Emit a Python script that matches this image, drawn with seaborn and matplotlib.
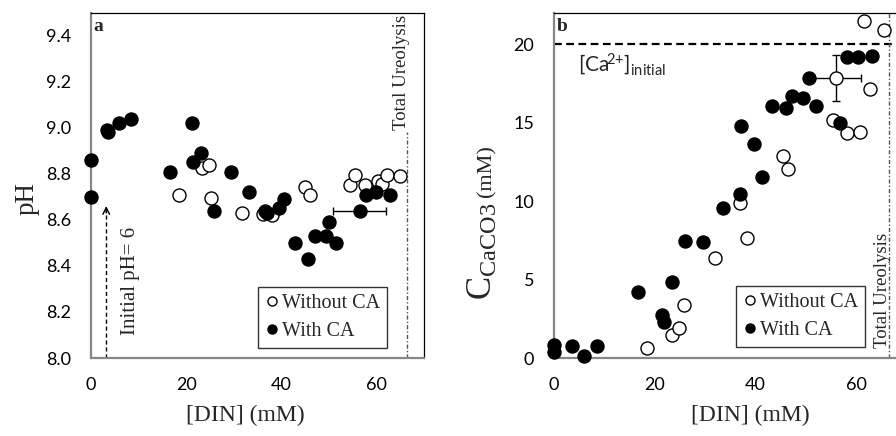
import matplotlib
matplotlib.use("Agg")
import matplotlib.pyplot as plt
import seaborn as sns
import pandas as pd
from matplotlib.lines import Line2D
from matplotlib.ticker import FixedLocator, FormatStrFormatter

# ---- data -------------------------------------------------------------
# panel a: pH vs dissolved inorganic nitrogen
ph_din_without = [18.5, 23.3, 24.7, 25.3, 31.7, 36.2, 38.0, 45.0, 46.0,
                  54.4, 55.5, 57.7, 60.3, 61.1, 62.2, 65.0]
ph_without = [8.71, 8.825, 8.84, 8.695, 8.63, 8.625, 8.62, 8.745, 8.71,
              8.75, 8.795, 8.75, 8.77, 8.755, 8.795, 8.79]
ph_din_with = [0.0, 0.0, 3.3, 3.5, 5.9, 8.5, 16.6, 21.2, 21.4, 23.1, 25.9,
               29.4, 33.2, 36.6, 36.9, 39.5, 40.6, 42.9, 45.7, 47.1, 49.3,
               50.1, 51.6, 56.5, 57.9, 60.0, 62.9]
ph_with = [8.86, 8.70, 8.99, 8.98, 9.02, 9.04, 8.81, 9.02, 8.85, 8.89, 8.64,
           8.81, 8.72, 8.64, 8.63, 8.65, 8.69, 8.50, 8.43, 8.53, 8.53,
           8.59, 8.50, 8.64, 8.71, 8.72, 8.71]
ph_err_din, ph_err_val, ph_err_x = 56.5, 8.64, 5.6

# panel b: precipitated CaCO3 vs dissolved inorganic nitrogen
caco3_din_without = [18.6, 23.4, 24.8, 25.9, 32.0, 36.9, 38.3, 45.4, 46.4,
                     55.3, 58.1, 60.6, 55.9, 62.6, 61.4, 65.4]
caco3_without = [0.63, 1.48, 1.90, 3.37, 6.39, 9.90, 7.66, 12.89, 12.06,
                 15.17, 14.35, 14.39, 17.84, 17.16, 21.44, 20.89]
caco3_din_with = [0.0, 0.0, 3.6, 6.0, 8.6, 16.75, 21.5, 21.8, 23.4, 26.0,
                  29.7, 33.5, 37.0, 37.2, 39.8, 41.2, 43.3, 46.1, 47.3, 49.4,
                  50.5, 51.9, 56.8, 58.1, 60.2, 63.0]
caco3_with = [0.85, 0.36, 0.78, 0.10, 0.78, 4.19, 2.75, 2.29, 4.87, 7.47,
              7.41, 9.55, 10.48, 14.79, 13.63, 11.53, 16.06, 15.92, 16.72,
              16.55, 17.84, 16.06, 14.96, 19.15, 19.15, 19.26]
caco3_err_din, caco3_err_val = 55.9, 17.84
caco3_err_x, caco3_err_y = 4.95, 1.48

ca_initial = 20.0
total_ureolysis_din = 66.5
initial_ph_din = 3.2
initial_ph_top = 8.66

x_ticks = [0, 20, 40, 60]
ph_ticks = [8.0, 8.2, 8.4, 8.6, 8.8, 9.0, 9.2, 9.4]
caco3_ticks = [0, 5, 10, 15, 20]
series_labels = ["Without CA", "With CA"]

# ---- style ------------------------------------------------------------
sns.set_style("white")
plt.rcParams.update({
    "font.family": ["Lato", "DejaVu Sans"],
    "mathtext.fontset": "custom",
    "mathtext.rm": "Liberation Serif",
    "mathtext.it": "Liberation Serif:italic",
    "mathtext.bf": "Liberation Serif:bold",
    "mathtext.sf": "Lato",
})
SERIF = ["Liberation Serif", "DejaVu Serif"]
SPINE_GREY = "#878787"
TICK_GREY = "#a6a6a6"
REF_LINE = "#555555"
MS = 88

W, H = 896, 436
fig = plt.figure(figsize=(W / 100, H / 100), dpi=100)
ax_a = fig.add_axes([91 / W, (H - 358) / H, 333 / W, 345.3 / H])
ax_b = fig.add_axes([553.5 / W, (H - 358) / H, 353.5 / W, 345.3 / H])

df_ph_wo = pd.DataFrame({"din": ph_din_without, "val": ph_without})
df_ph_w = pd.DataFrame({"din": ph_din_with, "val": ph_with})
df_ca_wo = pd.DataFrame({"din": caco3_din_without, "val": caco3_without})
df_ca_w = pd.DataFrame({"din": caco3_din_with, "val": caco3_with})


def style_axes(ax):
    for side in ("left", "bottom"):
        ax.spines[side].set_color(SPINE_GREY)
        ax.spines[side].set_linewidth(1.6)
    for side in ("top", "right"):
        ax.spines[side].set_color("black")
        ax.spines[side].set_linewidth(0.9)
    ax.tick_params(axis="both", which="both", direction="in", length=6,
                   width=1, color=TICK_GREY, labelsize=13, pad=14,
                   labelcolor="black", top=False, right=False)
    ax.xaxis.set_major_locator(FixedLocator(x_ticks))
    ax.set_xlim(0, 70)


def draw_points(ax, df_open, df_filled):
    sns.scatterplot(data=df_open, x="din", y="val", ax=ax, s=MS,
                    color="white", edgecolor="black", linewidth=1.0,
                    zorder=3, clip_on=False, legend=False)
    sns.scatterplot(data=df_filled, x="din", y="val", ax=ax, s=MS,
                    color="black", edgecolor="black", linewidth=1.0,
                    zorder=4, clip_on=False, legend=False)
    # axis titles are placed at figure level below
    ax.set_xlabel("")
    ax.set_ylabel("")


def add_legend(ax, anchor):
    handles = [
        Line2D([], [], ls="none", marker="o", ms=6.5, mfc="white",
               mec="black", mew=1.0),
        Line2D([], [], ls="none", marker="o", ms=6.5, mfc="black",
               mec="black", mew=1.0),
    ]
    leg = ax.legend(handles, series_labels, loc="lower right",
                    bbox_to_anchor=anchor, frameon=True, fancybox=False,
                    prop={"family": SERIF, "size": 14.5}, handlelength=0.7,
                    handletextpad=0.15, borderpad=0.35, labelspacing=0.45,
                    borderaxespad=0)
    leg.get_frame().set_edgecolor("black")
    leg.get_frame().set_linewidth(1.0)
    leg.set_zorder(6)


# ---- panel a ------------------------------------------------------------
style_axes(ax_a)
ax_a.set_ylim(8.0, 9.5)
ax_a.yaxis.set_major_locator(FixedLocator(ph_ticks))
ax_a.yaxis.set_major_formatter(FormatStrFormatter("%.1f"))
ax_a.errorbar([ph_err_din], [ph_err_val], xerr=[ph_err_x], fmt="none",
              ecolor="black", elinewidth=1, capsize=3, capthick=1, zorder=2)
draw_points(ax_a, df_ph_wo, df_ph_w)
ax_a.axvline(total_ureolysis_din, ymin=0, ymax=0.655, color=REF_LINE,
             lw=1, ls=(0, (3, 1.5, 1, 1.5)), zorder=1)
ax_a.text(65.3, 9.49, "Total Ureolysis", rotation=90, ha="center", va="top",
          family=SERIF, fontsize=13.5)
ax_a.plot([initial_ph_din, initial_ph_din], [8.0, initial_ph_top - 0.005],
          color="black", lw=1, ls=(0, (3, 2)), zorder=2)
ax_a.annotate("", xy=(initial_ph_din, initial_ph_top),
              xytext=(initial_ph_din, initial_ph_top - 0.03),
              arrowprops=dict(arrowstyle="->", color="black", lw=1,
                              mutation_scale=12, shrinkA=0, shrinkB=0))
ax_a.text(8.4, 8.10, "Initial pH= 6", rotation=90, ha="center",
          va="bottom", family=SERIF, fontsize=15)
ax_a.text(0.008, 0.985, "a", transform=ax_a.transAxes, ha="left", va="top",
          family=SERIF, fontweight="bold", fontsize=14)
add_legend(ax_a, (0.89, 0.029))

# ---- panel b ------------------------------------------------------------
style_axes(ax_b)
ax_b.set_ylim(0, 22)
ax_b.yaxis.set_major_locator(FixedLocator(caco3_ticks))
ax_b.axhline(ca_initial, color="black", lw=1.6, ls=(0, (3.5, 2)), zorder=1)
ax_b.text(4.95, 18.3, r"$\mathsf{[Ca\!^{2{+}}]_{initial}}$",
          ha="left", va="baseline", fontsize=15)
ax_b.errorbar([caco3_err_din], [caco3_err_val], xerr=[caco3_err_x],
              yerr=[caco3_err_y], fmt="none", ecolor="black", elinewidth=1,
              capsize=3, capthick=1, zorder=2)
draw_points(ax_b, df_ca_wo, df_ca_w)
ax_b.axvline(total_ureolysis_din, color=REF_LINE, lw=1,
             ls=(0, (3, 1.5, 1, 1.5)), zorder=1)
ax_b.text(65.1, 0.65, "Total Ureolysis", rotation=90, ha="center",
          va="bottom", family=SERIF, fontsize=13.5)
ax_b.text(0.008, 0.985, "b", transform=ax_b.transAxes, ha="left", va="top",
          family=SERIF, fontweight="bold", fontsize=14)
add_legend(ax_b, (0.882, 0.032))

# ---- axis titles --------------------------------------------------------
fig.text(245.8 / W, (H - 421) / H, "[DIN] (mM)", ha="center",
         va="baseline", family=SERIF, fontsize=17)
fig.text(750.8 / W, (H - 421) / H, "[DIN] (mM)", ha="center",
         va="baseline", family=SERIF, fontsize=17)
fig.text(34 / W, (H - 198) / H, "pH", rotation=90, rotation_mode="anchor",
         ha="center", va="baseline", family=SERIF, fontsize=19.5)

fig.canvas.draw()
renderer = fig.canvas.get_renderer()
c_label = fig.text(491.7 / W, (H - 300) / H, r"C$_{\mathrm{CaCO3}}$",
                   rotation=90, rotation_mode="anchor", ha="left",
                   va="baseline", family=SERIF, fontsize=25)
bb = c_label.get_window_extent(renderer=renderer)
fig.text(491.7 / W, (bb.y1 + 6) / H, "(mM)", rotation=90,
         rotation_mode="anchor", ha="left", va="baseline", family=SERIF,
         fontsize=16)

fig.savefig("out.png", dpi=100)
